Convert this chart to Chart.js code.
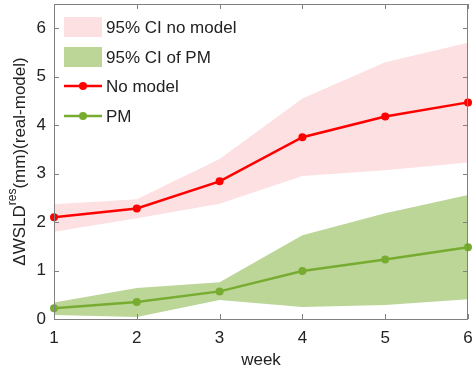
<!DOCTYPE html>
<html>
<head>
<meta charset="utf-8">
<script src="https://cdn.jsdelivr.net/npm/chart.js@4"></script>
<style>
  html, body { margin: 0; padding: 0; background: #fff; }
  #wrap { width: 473px; height: 375px; }
</style>
</head>
<body>
<div id="wrap"><canvas id="chart" width="473" height="375"></canvas></div>
<script>
// data
const weeks = ["1", "2", "3", "4", "5", "6"];
const noModel = [2.1, 2.28, 2.84, 3.75, 4.18, 4.47];
const noModelUpper = [2.37, 2.47, 3.3, 4.55, 5.3, 5.7];
const noModelLower = [1.8, 2.08, 2.38, 2.95, 3.07, 3.23];
const pm = [0.22, 0.35, 0.57, 0.99, 1.23, 1.48];
const pmUpper = [0.34, 0.64, 0.76, 1.73, 2.18, 2.56];
const pmLower = [0.08, 0.04, 0.39, 0.25, 0.29, 0.41];
const yTicks = [0, 1, 2, 3, 4, 5, 6];

const FONT = "'Liberation Sans', Arial, sans-serif";
const RED = "#ff0000";
const GREEN = "#77ac30";
const PINK = "rgba(253,224,225,1)";
const LIGHTGREEN = "rgba(188,214,152,1)";
const AXIS = "#808080";

// box, inward ticks, y label and legend
const decor = {
  id: "decor",
  afterDatasetsDraw(chart) {
    const { ctx, chartArea: a, scales } = chart;
    ctx.save();
    ctx.strokeStyle = AXIS;
    ctx.lineWidth = 1;
    ctx.strokeRect(a.left + 0.5, a.top + 0.5, a.right - a.left - 1, a.bottom - a.top);
    ctx.beginPath();
    weeks.forEach((w, i) => {
      const x = Math.round(scales.x.getPixelForValue(i)) + 0.5;
      ctx.moveTo(x, a.bottom); ctx.lineTo(x, a.bottom - 5);
      ctx.moveTo(x, a.top); ctx.lineTo(x, a.top + 5);
    });
    yTicks.forEach(v => {
      const y = Math.round(scales.y.getPixelForValue(v)) + 0.5;
      ctx.moveTo(a.left, y); ctx.lineTo(a.left + 5, y);
      ctx.moveTo(a.right, y); ctx.lineTo(a.right - 5, y);
    });
    ctx.stroke();

    // legend
    ctx.textBaseline = "middle";
    ctx.textAlign = "left";
    ctx.font = "17px " + FONT;
    const lx = 64, tx = 106;
    const rows = [27, 57, 86, 116];
    ctx.fillStyle = PINK;
    ctx.fillRect(lx, rows[0] - 10, 38, 20);
    ctx.fillStyle = LIGHTGREEN;
    ctx.fillRect(lx, rows[1] - 10, 38, 20);
    [[rows[2], RED], [rows[3], GREEN]].forEach(([y, c]) => {
      ctx.strokeStyle = c;
      ctx.lineWidth = 2.5;
      ctx.beginPath(); ctx.moveTo(lx, y); ctx.lineTo(lx + 38, y); ctx.stroke();
      ctx.fillStyle = c;
      ctx.beginPath(); ctx.arc(lx + 19, y, 4, 0, Math.PI * 2); ctx.fill();
    });
    ctx.fillStyle = "#222";
    ["95% CI no model", "95% CI of PM", "No model", "PM"].forEach((t, i) => {
      ctx.fillText(t, tx, rows[i] + 1);
    });

    // y axis title with superscript
    ctx.translate(20, (a.top + a.bottom) / 2);
    ctx.rotate(-Math.PI / 2);
    const big = "17px " + FONT, small = "12px " + FONT;
    const parts = [["\u0394WSLD", big, 0], ["res", small, -7], ["(mm)(real-model)", big, 0]];
    let total = 0;
    parts.forEach(p => { ctx.font = p[1]; total += ctx.measureText(p[0]).width; });
    let x = -total / 2;
    parts.forEach(p => {
      ctx.font = p[1];
      ctx.fillText(p[0], x, p[2]);
      x += ctx.measureText(p[0]).width;
    });
    ctx.restore();
  }
};

const band = (data, color, fill) => ({
  data, fill, backgroundColor: color, borderWidth: 0, pointRadius: 0, order: 3
});
const line = (label, data, color) => ({
  label, data, borderColor: color, backgroundColor: color, borderWidth: 2.5,
  pointRadius: 4, pointBackgroundColor: color, pointBorderWidth: 0, fill: false, order: 1
});

new Chart(document.getElementById("chart"), {
  type: "line",
  data: {
    labels: weeks,
    datasets: [
      band(noModelUpper, PINK, "+1"),
      band(noModelLower, PINK, false),
      band(pmUpper, LIGHTGREEN, "+1"),
      band(pmLower, LIGHTGREEN, false),
      line("No model", noModel, RED),
      line("PM", pm, GREEN)
    ]
  },
  options: {
    responsive: false,
    animation: false,
    layout: { padding: { top: 4, right: 5, left: 0, bottom: 0 } },
    plugins: { legend: { display: false }, tooltip: { enabled: false } },
    scales: {
      x: {
        offset: false,
        grid: { display: false, drawTicks: false },
        border: { display: false },
        ticks: { color: "#222", font: { family: FONT, size: 17 }, padding: 9, maxRotation: 0 },
        title: { display: true, text: "week", color: "#222", font: { family: FONT, size: 17 }, padding: { top: 0 } },
        afterFit(s) { s.height = 56; s.paddingLeft = 0; s.paddingRight = 0; }
      },
      y: {
        min: 0, max: 6.5,
        afterBuildTicks(s) { s.ticks = yTicks.map(v => ({ value: v })); },
        grid: { display: false, drawTicks: false },
        border: { display: false },
        ticks: { color: "#222", font: { family: FONT, size: 17 }, padding: 8 },
        afterFit(s) { s.width = 54; s.paddingTop = 0; s.paddingBottom = 0; }
      }
    }
  },
  plugins: [decor]
});
</script>
</body>
</html>
